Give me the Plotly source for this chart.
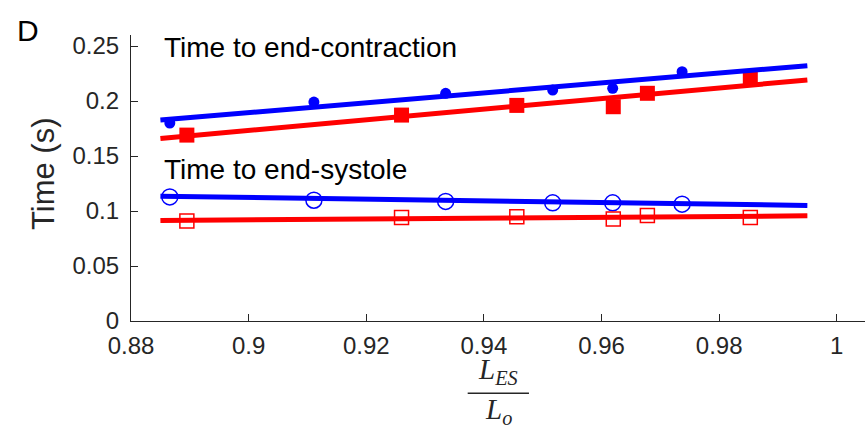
import plotly.graph_objects as go

# ---- data ----
contr_blue_x = [0.8866, 0.9111, 0.9335, 0.9517, 0.9619, 0.9737]
contr_blue_y = [0.180, 0.199, 0.207, 0.210, 0.2115, 0.2266]
contr_red_x = [0.8895, 0.9260, 0.9456, 0.9620, 0.9678, 0.9853]
contr_red_y = [0.169, 0.1872, 0.196, 0.1948, 0.207, 0.2215]

sys_blue_x = [0.8866, 0.9111, 0.9335, 0.9517, 0.9619, 0.9737]
sys_blue_y = [0.1128, 0.1098, 0.1087, 0.1074, 0.1074, 0.1062]
sys_red_x = [0.8895, 0.9260, 0.9456, 0.9620, 0.9678, 0.9853]
sys_red_y = [0.0910, 0.0941, 0.0947, 0.0928, 0.0959, 0.0941]

fit_x = [0.885, 0.995]
fit_contr_blue = [0.1827, 0.2321]
fit_contr_red = [0.1660, 0.2191]
fit_sys_blue = [0.1135, 0.1050]
fit_sys_red = [0.0914, 0.0956]

x_ticks = [0.88, 0.90, 0.92, 0.94, 0.96, 0.98, 1.00]
x_tick_labels = ["0.88", "0.9", "0.92", "0.94", "0.96", "0.98", "1"]
y_ticks = [0, 0.05, 0.10, 0.15, 0.20, 0.25]
y_tick_labels = ["0", "0.05", "0.1", "0.15", "0.2", "0.25"]

BLUE = "#0000FF"
RED = "#FF0000"
AX = "#262626"
FONT = "Liberation Sans, Arial, sans-serif"
SERIF = "Liberation Serif, DejaVu Serif, serif"

fig = go.Figure()

# markers
fig.add_trace(go.Scatter(x=contr_blue_x, y=contr_blue_y, mode="markers",
                         marker=dict(symbol="circle", size=11, color=BLUE, line=dict(width=0))))
fig.add_trace(go.Scatter(x=contr_red_x, y=contr_red_y, mode="markers",
                         marker=dict(symbol="square", size=15, color=RED, line=dict(width=0))))
fig.add_trace(go.Scatter(x=sys_blue_x, y=sys_blue_y, mode="markers",
                         marker=dict(symbol="circle-open", size=16, color=BLUE, line=dict(width=1.5))))
fig.add_trace(go.Scatter(x=sys_red_x, y=sys_red_y, mode="markers",
                         marker=dict(symbol="square-open", size=14, color=RED, line=dict(width=1.5))))

# fit lines
for yv, c in [(fit_contr_blue, BLUE), (fit_contr_red, RED), (fit_sys_blue, BLUE), (fit_sys_red, RED)]:
    fig.add_trace(go.Scatter(x=fit_x, y=yv, mode="lines", line=dict(color=c, width=5)))

fig.update_layout(
    width=865, height=428,
    margin=dict(l=131, r=0, t=35, b=107),
    paper_bgcolor="white", plot_bgcolor="white",
    showlegend=False,
    font=dict(family=FONT, color=AX),
)
fig.update_xaxes(range=[0.88, 1.0048], tickvals=x_ticks, ticktext=x_tick_labels,
                 ticks="inside", ticklen=7, tickwidth=1.2, tickcolor=AX,
                 showline=True, linecolor=AX, linewidth=1.2, showgrid=False, zeroline=False,
                 tickfont=dict(size=24, color=AX, family=FONT), ticklabelstandoff=3)
fig.update_yaxes(range=[0, 0.26], tickvals=y_ticks, ticktext=y_tick_labels,
                 ticks="inside", ticklen=7, tickwidth=1.2, tickcolor=AX,
                 showline=True, linecolor=AX, linewidth=1.2, showgrid=False, zeroline=False,
                 tickfont=dict(size=24, color=AX, family=FONT), ticklabelstandoff=6)

ann = [
    dict(text="Time to end-contraction", x=0.8853, y=0.249, xref="x", yref="y",
         xanchor="left", yanchor="middle", showarrow=False,
         font=dict(size=28, color="black", family=FONT)),
    dict(text="Time to end-systole", x=0.8853, y=0.138, xref="x", yref="y",
         xanchor="left", yanchor="middle", showarrow=False,
         font=dict(size=28, color="black", family=FONT)),
    dict(text="D", x=-0.158, y=1.014, xref="paper", yref="paper",
         xanchor="left", yanchor="middle", showarrow=False,
         font=dict(size=30, color="black", family=FONT)),
    dict(text="Time (s)", x=-0.1185, y=0.514, xref="paper", yref="paper",
         xanchor="center", yanchor="middle", textangle=-90, showarrow=False,
         font=dict(size=31, color=AX, family=FONT)),
    dict(text="<i>L</i><sub><i>ES</i></sub>", x=0.5, y=-0.1748, xref="paper", yref="paper",
         xanchor="center", yanchor="middle", showarrow=False,
         font=dict(size=29, color=AX, family=SERIF)),
    dict(text="<i>L</i><sub><i>o</i></sub>", x=0.501, y=-0.3147, xref="paper", yref="paper",
         xanchor="center", yanchor="middle", showarrow=False,
         font=dict(size=29, color=AX, family=SERIF)),
]
fig.update_layout(annotations=ann)
fig.add_shape(type="line", xref="paper", yref="paper", x0=0.4587, x1=0.5422, y0=-0.2528, y1=-0.2528,
              line=dict(color=AX, width=1.5))

fig.write_html("out.html", config={"displayModeBar": False},
               post_script="document.body.style.margin='0';document.body.style.overflow='hidden';")
